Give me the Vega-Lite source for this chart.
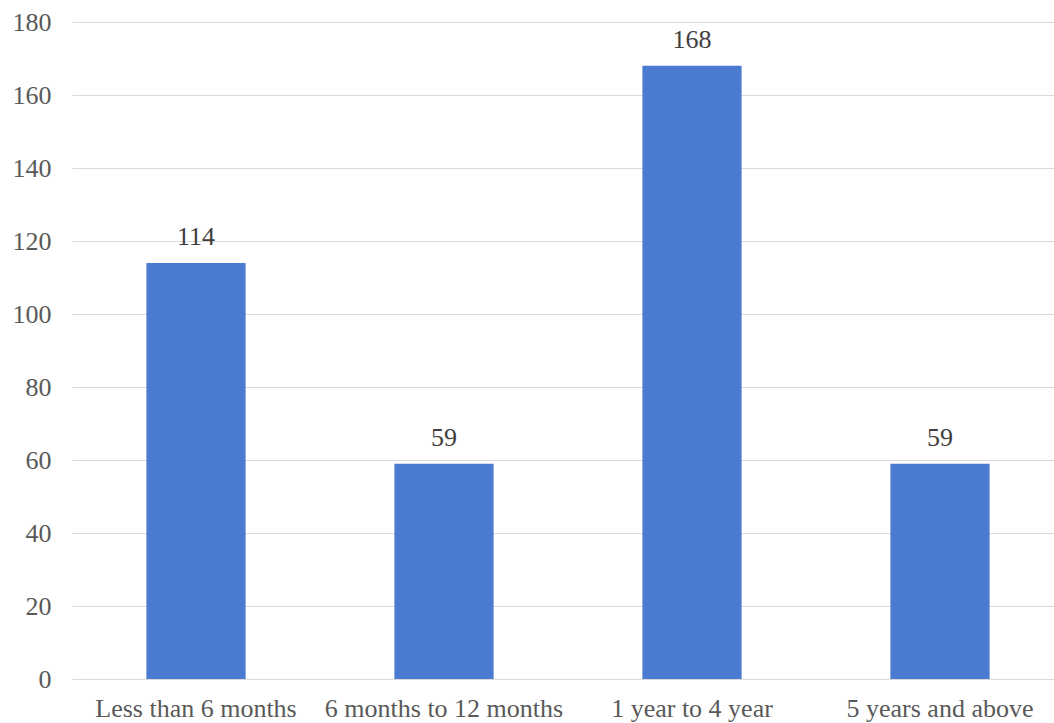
{
  "$schema": "https://vega.github.io/schema/vega-lite/v6.json",
  "autosize": "none",
  "width": 982,
  "height": 657,
  "padding": {"left": 72, "top": 22, "right": 0, "bottom": 44},
  "background": "white",
  "config": {
    "view": {"stroke": null},
    "font": "Liberation Serif"
  },
  "data": {
    "values": [
      {"category": "Less than 6 months", "count": 114},
      {"category": "6 months to 12 months", "count": 59},
      {"category": "1 year to 4 year", "count": 168},
      {"category": "5 years and above", "count": 59}
    ]
  },
  "encoding": {
    "x": {
      "field": "category",
      "type": "nominal",
      "sort": null,
      "scale": {"range": [0, 992], "paddingInner": 0.6, "paddingOuter": 0.3},
      "axis": {
        "title": null,
        "labelAngle": 0,
        "labelFont": "Liberation Serif",
        "labelFontSize": 26,
        "labelColor": "#595959",
        "labelPadding": 16,
        "labelLimit": 400,
        "ticks": false,
        "domain": false,
        "grid": false
      }
    },
    "y": {
      "field": "count",
      "type": "quantitative",
      "scale": {"domain": [0, 180], "nice": false},
      "axis": {
        "title": null,
        "values": [0, 20, 40, 60, 80, 100, 120, 140, 160, 180],
        "labelFont": "Liberation Serif",
        "labelFontSize": 26,
        "labelColor": "#595959",
        "labelPadding": 21,
        "ticks": false,
        "domain": false,
        "grid": true,
        "gridColor": "#d9d9d9",
        "gridWidth": 1
      }
    }
  },
  "layer": [
    {"mark": {"type": "bar", "color": "#4a7bd0"}},
    {
      "mark": {
        "type": "text",
        "baseline": "alphabetic",
        "dy": -18,
        "font": "Liberation Serif",
        "fontSize": 26,
        "color": "#404040"
      },
      "encoding": {"text": {"field": "count", "type": "quantitative"}}
    }
  ]
}
